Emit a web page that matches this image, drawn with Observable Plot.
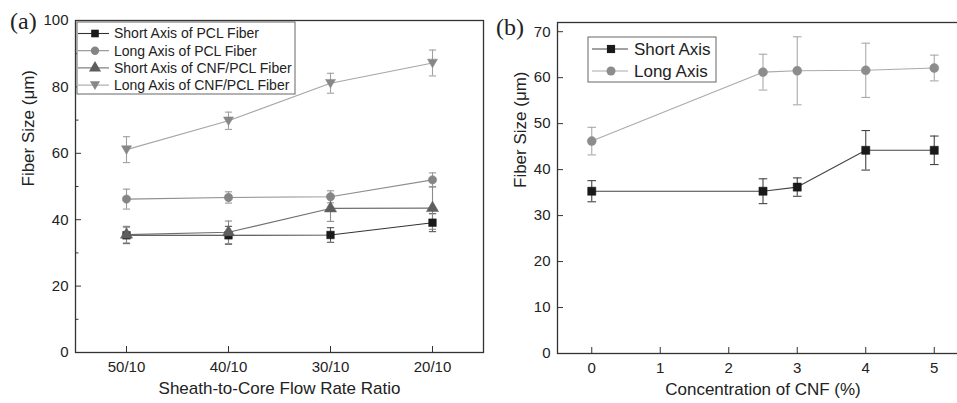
<!DOCTYPE html>
<html>
<head>
<meta charset="utf-8">
<script src="https://cdn.jsdelivr.net/npm/d3@7"></script>
<script src="https://cdn.jsdelivr.net/npm/@observablehq/plot@0.6"></script>
<style>
  html, body { margin: 0; padding: 0; background: #fff; overflow: hidden; }
  #wrap { position: relative; width: 957px; height: 403px; overflow: hidden; background: #fff; }
  .panel { position: absolute; top: 0; }
  .tag { position: absolute; font-family: "Liberation Serif", "DejaVu Serif", serif; font-size: 24px; color: #222; }
</style>
</head>
<body>
<div id="wrap">
  <div class="tag" style="left:10px; top:8px;">(a)</div>
  <div class="tag" style="left:496px; top:14px;">(b)</div>
</div>
<script>
// ---------- Panel (a) data ----------
const ratioCategories = ["50/10", "40/10", "30/10", "20/10"];
const shortPCL    = [35.3, 35.3, 35.4, 39.1];
const shortPCLErr = [2.5, 2.7, 2.2, 2.7];
const longPCL     = [46.2, 46.7, 46.9, 52.0];
const longPCLErr  = [3.0, 1.7, 1.8, 2.1];
const shortCNF    = [35.5, 36.2, 43.4, 43.5];
const shortCNFErr = [2.5, 3.4, 3.9, 6.4];
const longCNF     = [61.1, 69.8, 81.1, 87.2];
const longCNFErr  = [3.9, 2.6, 3.0, 3.9];
const seriesNamesA = ["Short Axis of PCL Fiber", "Long Axis of PCL Fiber", "Short Axis of CNF/PCL Fiber", "Long Axis of CNF/PCL Fiber"];
const yTicksA = [0, 20, 40, 60, 80, 100];
const yMinorA = [10, 30, 50, 70, 90];

// ---------- Panel (b) data ----------
const cnfConcentration = [0, 2.5, 3, 4, 5];
const shortAxisB    = [35.3, 35.3, 36.2, 44.2, 44.2];
const shortAxisBErr = [2.3, 2.7, 2.0, 4.3, 3.1];
const longAxisB     = [46.2, 61.2, 61.5, 61.6, 62.1];
const longAxisBErr  = [3.0, 3.9, 7.4, 5.9, 2.8];
const seriesNamesB = ["Short Axis", "Long Axis"];
const yTicksB = [0, 10, 20, 30, 40, 50, 60, 70];
const xTicksB = [0, 1, 2, 3, 4, 5];

// ---------- styling ----------
const FONT = "'Liberation Sans', Arial, Helvetica, sans-serif";
const triangleDown = {
  draw(ctx, size) {
    const r = Math.sqrt(size / Math.PI);
    ctx.moveTo(-r * 1.05, -r * 0.8);
    ctx.lineTo(r * 1.05, -r * 0.8);
    ctx.lineTo(0, r * 1.0);
    ctx.closePath();
  }
};
const capSymbol = {
  draw(ctx, size) {
    const r = Math.sqrt(size / Math.PI);
    ctx.moveTo(-r, 0);
    ctx.lineTo(r, 0);
  }
};

const stylesA = [
  {symbol: "square",   r: 4.3, fill: "#1a1a1a", line: "#333333", err: "#555555"},
  {symbol: "circle",   r: 4.2, fill: "#858585", line: "#8e8e8e", err: "#999999"},
  {symbol: "triangle", r: 4.5, fill: "#5e5e5e", line: "#707070", err: "#8a8a8a"},
  {symbol: triangleDown, r: 4.8, fill: "#878787", line: "#a6a6a6", err: "#a0a0a0"}
];
const stylesB = [
  {symbol: "square", r: 4.6, fill: "#1a1a1a", line: "#444444", err: "#444444"},
  {symbol: "circle", r: 4.5, fill: "#8c8c8c", line: "#aaaaaa", err: "#aaaaaa"}
];

function rows(xs, ys, es) { return xs.map((x, i) => ({x, y: ys[i], e: es[i]})); }

const dataA = [
  rows(ratioCategories, shortPCL, shortPCLErr),
  rows(ratioCategories, longPCL, longPCLErr),
  rows(ratioCategories, shortCNF, shortCNFErr),
  rows(ratioCategories, longCNF, longCNFErr)
];
const dataB = [
  rows(cnfConcentration, shortAxisB, shortAxisBErr),
  rows(cnfConcentration, longAxisB, longAxisBErr)
];

function seriesMarks(data, st) {
  return [Plot.line(data, {x: "x", y: "y", stroke: st.line, strokeWidth: 1.1})];
}
function errMarks(data, st, capR) {
  return [
    Plot.ruleX(data, {x: "x", y1: d => d.y - d.e, y2: d => d.y + d.e, stroke: st.err, strokeWidth: 1.1}),
    Plot.dot(data, {x: "x", y: d => d.y - d.e, symbol: capSymbol, r: capR, stroke: st.err, strokeWidth: 1.1, fill: "none"}),
    Plot.dot(data, {x: "x", y: d => d.y + d.e, symbol: capSymbol, r: capR, stroke: st.err, strokeWidth: 1.1, fill: "none"})
  ];
}
function dotMarks(data, st) {
  return [Plot.dot(data, {x: "x", y: "y", symbol: st.symbol, r: st.r, fill: st.fill, stroke: st.fill, strokeWidth: 0.5})];
}

// ---------- Panel (a) ----------
const plotA = Plot.plot({
  width: 490, height: 403,
  marginLeft: 75, marginRight: 7, marginTop: 20, marginBottom: 51,
  x: {type: "point", domain: ratioCategories, padding: 0.5},
  y: {domain: [0, 100]},
  style: {fontFamily: FONT, fontSize: "15px", color: "#222", background: "transparent", overflow: "visible"},
  marks: [
    dataA.map((d, i) => seriesMarks(d, stylesA[i])),
    dataA.map((d, i) => errMarks(d, stylesA[i], 3.6)),
    dataA.map((d, i) => dotMarks(d, stylesA[i])),
    Plot.axisY({ticks: yTicksA, tickSize: 0, tickPadding: 7, label: null, fontSize: 15}),
    Plot.axisY({ticks: yTicksA, tickSize: -6, tickFormat: () => "", label: null, stroke: "#333"}),
    Plot.axisY({ticks: yMinorA, tickSize: -3.5, tickFormat: () => "", label: null, stroke: "#333"}),
    Plot.axisX({tickSize: 0, tickPadding: 9, label: null, fontSize: 15}),
    Plot.axisX({tickSize: -6, tickFormat: () => "", label: null, stroke: "#333"}),
    Plot.frame({stroke: "#333", strokeWidth: 1.3}),
    Plot.text(["Fiber Size (μm)"], {frameAnchor: "left", text: d => d, rotate: -90, dx: -47, fontSize: 17, fill: "#222"}),
    Plot.text(["Sheath-to-Core Flow Rate Ratio"], {frameAnchor: "bottom", text: d => d, dy: 41, fontSize: 17, fill: "#222"})
  ]
});

// ---------- Panel (b) ----------
const plotB = Plot.plot({
  width: 488, height: 403,
  marginLeft: 77, marginRight: 0, marginTop: 22, marginBottom: 50,
  x: {domain: [-0.5, 5.5]},
  y: {domain: [0, 72]},
  style: {fontFamily: FONT, fontSize: "15px", color: "#222", background: "transparent", overflow: "visible"},
  marks: [
    dataB.map((d, i) => seriesMarks(d, stylesB[i])),
    dataB.map((d, i) => errMarks(d, stylesB[i], 4.3)),
    dataB.map((d, i) => dotMarks(d, stylesB[i])),
    Plot.axisY({ticks: yTicksB, tickSize: 0, tickPadding: 7, tickFormat: "d", label: null, fontSize: 15}),
    Plot.axisY({ticks: yTicksB, tickSize: -6, tickFormat: () => "", label: null, stroke: "#333"}),
    Plot.axisX({ticks: xTicksB, tickSize: 0, tickPadding: 9, tickFormat: "d", label: null, fontSize: 15}),
    Plot.axisX({ticks: xTicksB, tickSize: -6, tickFormat: () => "", label: null, stroke: "#333"}),
    Plot.frame({stroke: "#333", strokeWidth: 1.3}),
    Plot.text(["Fiber Size (μm)"], {frameAnchor: "left", text: d => d, rotate: -90, dx: -37, fontSize: 17, fill: "#222"}),
    Plot.text(["Concentration of CNF (%)"], {frameAnchor: "bottom", text: d => d, dy: 41, fontSize: 17, fill: "#222"})
  ]
});

// ---------- legends ----------
function addLegend(svg, names, styles, box, entry) {
  const g = d3.select(svg).append("g").attr("font-family", FONT).attr("fill", "#222").attr("text-anchor", "start");
  g.append("rect").attr("x", box.x).attr("y", box.y).attr("width", box.w).attr("height", box.h)
    .attr("fill", "#fff").attr("stroke", "#666").attr("stroke-width", 1);
  names.forEach((name, i) => {
    const y = entry.y0 + i * entry.dy;
    const st = styles[i];
    g.append("line").attr("x1", entry.lx1).attr("x2", entry.lx2).attr("y1", y).attr("y2", y)
      .attr("stroke", st.line).attr("stroke-width", 1.1);
    const sym = typeof st.symbol === "string"
      ? {square: d3.symbolSquare, circle: d3.symbolCircle, triangle: d3.symbolTriangle}[st.symbol]
      : st.symbol;
    g.append("path").attr("d", d3.symbol(sym, Math.PI * st.r * st.r)())
      .attr("transform", `translate(${entry.mx},${y})`).attr("fill", st.fill);
    g.append("text").attr("x", entry.tx).attr("y", y).attr("dy", "0.35em")
      .attr("text-anchor", "start").attr("font-size", entry.fs).text(name);
  });
}
addLegend(plotA, seriesNamesA, stylesA,
  {x: 77, y: 22, w: 218, h: 72},
  {y0: 33.5, dy: 17.2, lx1: 78, lx2: 109, mx: 95, tx: 114, fs: 14});
addLegend(plotB, seriesNamesB, stylesB,
  {x: 108, y: 37, w: 128, h: 45},
  {y0: 49, dy: 22, lx1: 112, lx2: 148, mx: 131, tx: 154, fs: 17});

plotA.classList.add("panel"); plotA.style.left = "0px";
plotB.classList.add("panel"); plotB.style.left = "480px";
document.getElementById("wrap").append(plotA, plotB);
</script>
</body>
</html>
